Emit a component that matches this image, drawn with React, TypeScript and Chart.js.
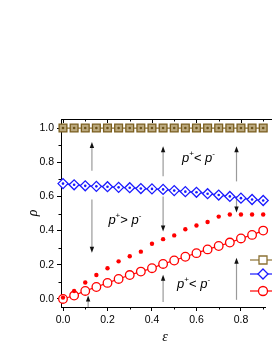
import React, { useEffect, useRef } from "react";
import { Chart, registerables } from "chart.js";
Chart.register(...registerables);

const epsilon = [0, 0.05, 0.1, 0.15, 0.2, 0.25, 0.3, 0.35, 0.4, 0.45, 0.5, 0.55, 0.6, 0.65, 0.7, 0.75, 0.8, 0.85, 0.9];
const rhoBrown = [1, 1, 1, 1, 1, 1, 1, 1, 1, 1, 1, 1, 1, 1, 1, 1, 1, 1, 1];
const rhoBlue = [0.675, 0.668, 0.662, 0.659, 0.657, 0.653, 0.651, 0.646, 0.644, 0.641, 0.634, 0.628, 0.624, 0.616, 0.608, 0.6, 0.59, 0.582, 0.576];
const rhoRedOpen = [0.0, 0.02, 0.047, 0.07, 0.094, 0.117, 0.14, 0.16, 0.18, 0.205, 0.225, 0.247, 0.268, 0.29, 0.31, 0.33, 0.354, 0.375, 0.4];
const rhoRedDots = [0.008, 0.047, 0.096, 0.14, 0.18, 0.22, 0.25, 0.277, 0.323, 0.35, 0.372, 0.408, 0.43, 0.45, 0.482, 0.494, 0.494, 0.494, 0.494];

const xTicks = [0, 0.2, 0.4, 0.6, 0.8];
const xTickLabels = ["0.0", "0.2", "0.4", "0.6", "0.8"];
const yTicks = [0, 0.2, 0.4, 0.6, 0.8, 1.0];
const yTickLabels = ["0.0", "0.2", "0.4", "0.6", "0.8", "1.0"];
const xMinorTicks = [0.1, 0.3, 0.5, 0.7, 0.9];
const yMinorTicks = [0.1, 0.3, 0.5, 0.7, 0.9];

// annotation arrows: [epsilon, rho start, rho tip]
const arrows = [
  [0.13, 0.75, 0.918],
  [0.13, 0.582, 0.27],
  [0.113, -0.047, 0.02],
  [0.45, 0.718, 0.894],
  [0.45, 0.6, 0.395],
  [0.45, -0.018, 0.141],
  [0.78, 0.688, 0.894],
  [0.78, 0.6, 0.506],
  [0.78, -0.005, 0.241],
];

// region labels: [epsilon, rho (baseline), relation]
const regionLabels: [number, number, string][] = [
  [0.204, 0.44, ">"],
  [0.535, 0.8, "<"],
  [0.513, 0.062, "<"],
];

const FONT = "'Liberation Sans', Arial, sans-serif";

const pts = (ys: number[]) => epsilon.map((x, i) => ({ x, y: ys[i] }));

const decorPlugin = {
  id: "decor",
  beforeDatasetsDraw(chart: any) {
    const { ctx, chartArea, scales } = chart;
    const xs = scales.x;
    const ys = scales.y;
    ctx.save();
    ctx.strokeStyle = "#000";
    ctx.lineWidth = 1;
    ctx.beginPath();
    ctx.moveTo(chartArea.left, chartArea.top + 0.5);
    ctx.lineTo(chartArea.right + 10, chartArea.top + 0.5);
    ctx.stroke();
    const drawV = (v: number, len: number, y: number) => {
      const px = Math.round(xs.getPixelForValue(v)) + 0.5;
      ctx.beginPath();
      ctx.moveTo(px, y);
      ctx.lineTo(px, y + len);
      ctx.stroke();
    };
    xTicks.forEach((v) => drawV(v, 4, chartArea.top));
    xMinorTicks.forEach((v) => drawV(v, 2.5, chartArea.top));
    xMinorTicks.forEach((v) => drawV(v, 2.5, chartArea.bottom));
    yMinorTicks.forEach((v) => {
      const py = Math.round(ys.getPixelForValue(v)) + 0.5;
      ctx.beginPath();
      ctx.moveTo(chartArea.left - 2.5, py);
      ctx.lineTo(chartArea.left, py);
      ctx.stroke();
    });
    arrows.forEach(([x, from, to]) => {
      const px = xs.getPixelForValue(x);
      const y0 = ys.getPixelForValue(from);
      const y1 = ys.getPixelForValue(to);
      const dir = y1 < y0 ? -1 : 1;
      const headLen = 6;
      ctx.strokeStyle = "#9a9a9a";
      ctx.lineWidth = 1.2;
      ctx.beginPath();
      ctx.moveTo(px, y0);
      ctx.lineTo(px, y1 - dir * headLen * 0.6);
      ctx.stroke();
      ctx.fillStyle = "#111";
      ctx.beginPath();
      ctx.moveTo(px, y1);
      ctx.lineTo(px - 2.2, y1 - dir * headLen);
      ctx.lineTo(px + 2.2, y1 - dir * headLen);
      ctx.closePath();
      ctx.fill();
    });
    ctx.restore();
  },
  afterDraw(chart: any) {
    const { ctx, scales } = chart;
    const xs = scales.x;
    const ys = scales.y;
    ctx.save();
    regionLabels.forEach(([x, y, rel]) => {
      let px = xs.getPixelForValue(x);
      const py = ys.getPixelForValue(y);
      ctx.fillStyle = "#000";
      ctx.textBaseline = "alphabetic";
      ctx.textAlign = "left";
      const seg = (t: string, font: string, dy: number) => {
        ctx.font = font;
        ctx.fillText(t, px, py + dy);
        px += ctx.measureText(t).width;
      };
      seg("p", `italic 13px ${FONT}`, 0);
      seg("+", `8px ${FONT}`, -6);
      seg(rel + " ", `13px ${FONT}`, 0);
      seg("p", `italic 13px ${FONT}`, 0);
      seg("-", `8px ${FONT}`, -6);
    });
    ctx.fillStyle = "#000";
    ctx.font = `italic 14px 'Liberation Serif', serif`;
    ctx.textAlign = "center";
    ctx.textBaseline = "middle";
    ctx.fillText("\u03b5", 165, 337);
    ctx.save();
    ctx.translate(33, 213);
    ctx.rotate(-Math.PI / 2);
    ctx.fillText("\u03c1", 0, 0);
    ctx.restore();
    const lx0 = 250;
    const lmx = 263;
    const entries = [
      { y: 260, color: "#8c7234", shape: "rect" },
      { y: 274, color: "#1a1aff", shape: "diamond" },
      { y: 291, color: "#ff0000", shape: "circle" },
    ];
    entries.forEach((e) => {
      ctx.strokeStyle = e.color;
      ctx.lineWidth = 1.2;
      ctx.beginPath();
      ctx.moveTo(lx0, e.y);
      ctx.lineTo(lx0 + 30, e.y);
      ctx.stroke();
      ctx.lineWidth = 1.3;
      ctx.fillStyle = "#fff";
      ctx.beginPath();
      if (e.shape === "rect") {
        ctx.rect(lmx - 4, e.y - 4, 8, 8);
      } else if (e.shape === "diamond") {
        ctx.moveTo(lmx, e.y - 5);
        ctx.lineTo(lmx + 5, e.y);
        ctx.lineTo(lmx, e.y + 5);
        ctx.lineTo(lmx - 5, e.y);
        ctx.closePath();
      } else {
        ctx.arc(lmx, e.y, 4.5, 0, Math.PI * 2);
      }
      ctx.fill();
      ctx.stroke();
    });
    ctx.restore();
  },
};

export default function App() {
  const ref = useRef<HTMLCanvasElement>(null);
  useEffect(() => {
    if (!ref.current) return;
    const chart = new Chart(ref.current, {
      type: "line",
      data: {
        datasets: [
          {
            data: pts(rhoBrown),
            borderColor: "#8c7234",
            borderWidth: 1.2,
            pointStyle: "rect",
            pointRadius: 5.5,
            pointBackgroundColor: "#bba97f",
            pointBorderColor: "#7a5e1e",
            pointBorderWidth: 1.3,
            clip: false,
            order: 5,
          },
          {
            data: pts(rhoBrown),
            showLine: false,
            pointRadius: 1.3,
            pointBackgroundColor: "#6b5218",
            pointBorderWidth: 0,
            clip: false,
            order: 4,
          },
          {
            data: pts(rhoBlue),
            borderColor: "#1a1aff",
            borderWidth: 1.2,
            pointStyle: "rectRot",
            pointRadius: 5,
            pointBackgroundColor: "#ffffff",
            pointBorderColor: "#1a1aff",
            pointBorderWidth: 1.3,
            clip: false,
            order: 3,
          },
          {
            data: pts(rhoBlue),
            showLine: false,
            pointRadius: 1.3,
            pointBackgroundColor: "#1a1aff",
            pointBorderWidth: 0,
            clip: false,
            order: 2,
          },
          {
            data: pts(rhoRedOpen),
            borderColor: "#ff0000",
            borderWidth: 1.2,
            pointStyle: "circle",
            pointRadius: 4.3,
            pointBackgroundColor: "#ffffff",
            pointBorderColor: "#ff0000",
            pointBorderWidth: 1.3,
            clip: false,
            order: 1,
          },
          {
            data: pts(rhoRedDots),
            showLine: false,
            pointRadius: 2.2,
            pointBackgroundColor: "#ff0000",
            pointBorderWidth: 0,
            clip: false,
            order: 0,
          },
        ],
      },
      options: {
        animation: false,
        responsive: false,
        maintainAspectRatio: false,
        layout: { padding: { left: 0, right: 0, top: 119, bottom: 0 } },
        plugins: { legend: { display: false }, tooltip: { enabled: false } },
        scales: {
          x: {
            type: "linear",
            min: -0.009,
            max: 0.909,
            afterBuildTicks: (s: any) => {
              s.ticks = xTicks.map((v) => ({ value: v }));
            },
            afterFit: (s: any) => {
              s.height = 45;
            },
            ticks: {
              callback: (_v: any, i: number) => xTickLabels[i],
              font: { size: 10.5, family: FONT },
              color: "#000",
              padding: 3,
              maxRotation: 0,
              autoSkip: false,
            },
            grid: { drawOnChartArea: false, drawTicks: true, tickLength: 4, color: "#000" },
            border: { display: true, color: "#000", width: 1 },
          },
          y: {
            type: "linear",
            min: -0.047,
            max: 1.053,
            afterBuildTicks: (s: any) => {
              s.ticks = yTicks.map((v) => ({ value: v }));
            },
            afterFit: (s: any) => {
              s.width = 61;
            },
            ticks: {
              callback: (_v: any, i: number) => yTickLabels[i],
              font: { size: 10.5, family: FONT },
              color: "#000",
              padding: 3,
              autoSkip: false,
            },
            grid: { drawOnChartArea: false, drawTicks: true, tickLength: 4, color: "#000" },
            border: { display: true, color: "#000", width: 1 },
          },
        },
      },
      plugins: [decorPlugin],
    } as any);
    return () => chart.destroy();
  }, []);
  return (
    <div style={{ position: "absolute", left: 0, top: 0, width: 272, height: 352, overflow: "hidden", background: "#fff" }}>
      <canvas ref={ref} width={272} height={352} style={{ display: "block" }} />
    </div>
  );
}
